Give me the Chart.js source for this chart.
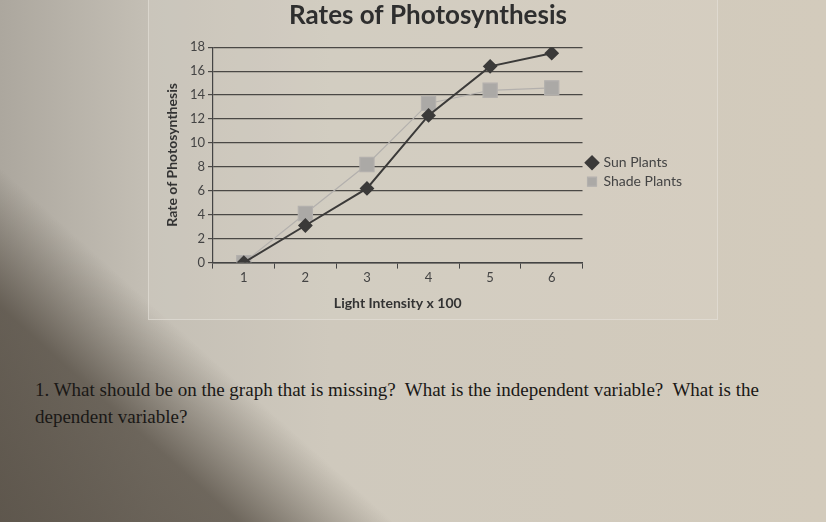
<!DOCTYPE html>
<html>
<head>
<meta charset="utf-8">
<script src="https://cdn.jsdelivr.net/npm/chart.js@4/dist/chart.umd.min.js"></script>
<style>
  html, body { margin: 0; padding: 0; }
  body {
    width: 826px; height: 522px; overflow: hidden; position: relative;
    background:
      linear-gradient(42deg, rgba(72,64,54,0.78) 0%, rgba(72,64,54,0.7) 17%, rgba(72,64,54,0) 28%),
      linear-gradient(to right, #aca79e 0%, #c4bfb5 18%, #cfc9bd 40%, #d3cbbc 100%);
  }
  #panel {
    position: absolute; left: 148px; top: -2px; width: 568px; height: 320px;
    border: 1px solid rgba(232,228,220,0.55);
    background: rgba(222,218,210,0.22);
  }
  #wrap { position: absolute; left: 150px; top: 0; width: 570px; height: 320px; }
  #q {
    position: absolute; left: 35px; top: 376px; width: 790px;
    font-family: "Liberation Serif", "DejaVu Serif", serif; font-size: 19px;
    line-height: 27px; color: #1a1816; white-space: nowrap;
  }
</style>
</head>
<body>
<div id="panel"></div>
<div id="wrap"><canvas id="chart" width="570" height="320"></canvas></div>
<div id="q">1. What should be on the graph that is missing?&nbsp; What is the independent variable?&nbsp; What is the<br>dependent variable?</div>
<script>
const categories = ['1', '2', '3', '4', '5', '6'];
const sunPlants = [0, 3.1, 6.2, 12.3, 16.4, 17.5];
const shadePlants = [0, 4.1, 8.2, 13.3, 14.4, 14.6];
const yTicks = [0, 2, 4, 6, 8, 10, 12, 14, 16, 18];

const font = 'Lato, "Open Sans", sans-serif';

new Chart(document.getElementById('chart'), {
  type: 'line',
  data: {
    labels: categories,
    datasets: [
      {
        label: 'Sun Plants', data: sunPlants,
        borderColor: '#3b3a39', backgroundColor: '#3b3a39', borderWidth: 2,
        pointStyle: 'rectRot', pointRadius: 6, pointHoverRadius: 6, order: 1
      },
      {
        label: 'Shade Plants', data: shadePlants,
        borderColor: '#b3b0ad', backgroundColor: '#aba9a6', borderWidth: 1.2,
        pointStyle: 'rect', pointRadius: 10, pointHoverRadius: 10, order: 2
      }
    ]
  },
  options: {
    responsive: false, animation: false,
    layout: { padding: { left: 14, right: 28, top: 0, bottom: 4 } },
    plugins: {
      tooltip: { enabled: false },
      title: {
        display: true, text: 'Rates of Photosynthesis', color: '#2e2e2e',
        font: { family: font, size: 26, weight: 'bold' }, padding: { top: 0, bottom: 16 }
      },
      legend: {
        position: 'right',
        title: { display: true, text: ' ', font: { size: 12 }, padding: { top: 0, bottom: 14 } },
        labels: {
          usePointStyle: true, color: '#444', boxWidth: 9, boxHeight: 9,
          font: { family: font, size: 14 }, padding: 5
        }
      }
    },
    scales: {
      x: {
        offset: true,
        grid: { offset: true, drawOnChartArea: false, drawTicks: true, tickLength: 6, color: '#444' },
        border: { color: '#444', width: 1.5 },
        ticks: { color: '#444', font: { family: font, size: 13 }, padding: 1, maxRotation: 0 },
        title: { display: true, text: 'Light Intensity x 100', color: '#333', font: { family: font, size: 14, weight: 'bold' }, padding: { top: 9 } }
      },
      y: {
        min: 0, max: 18,
        afterBuildTicks: s => { s.ticks = yTicks.map(v => ({ value: v })); },
        afterFit: s => { s.width = 49; },
        grid: { color: '#4a4845', lineWidth: 1.2, tickLength: 5 },
        border: { color: '#444', width: 1.2 },
        ticks: { color: '#444', font: { family: font, size: 13 }, padding: 3, minRotation: 0, maxRotation: 0 },
        title: { display: true, text: 'Rate of Photosynthesis', color: '#333', font: { family: font, size: 14, weight: 'bold' }, padding: 0 }
      }
    }
  }
});
</script>
</body>
</html>
